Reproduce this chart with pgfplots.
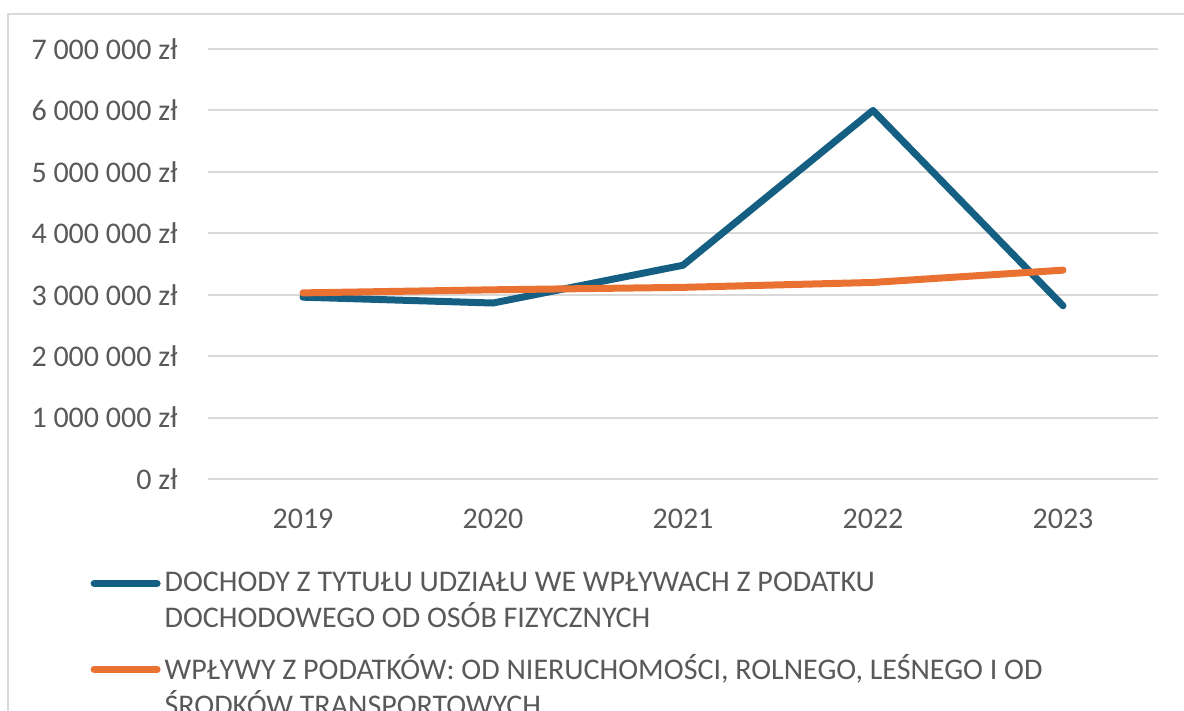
\documentclass[border=0pt]{standalone}
\usepackage{fontspec}
\setmainfont{Carlito}
\usepackage{pgfplots}
\pgfplotsset{compat=1.18}
\definecolor{cBlue}{HTML}{156082}
\definecolor{cOrange}{HTML}{E97132}
\definecolor{cGrid}{HTML}{D9D9D9}
\definecolor{cText}{HTML}{595959}
\begin{document}
\fontsize{15}{18}\selectfont
\begin{tikzpicture}
\useasboundingbox (0pt,0pt) rectangle (592pt,-355.5pt);
\clip (0pt,0pt) rectangle (592pt,-355.5pt);
\draw[cGrid, line width=1.2pt] (4pt,-400pt) -- (4pt,-7pt) -- (700pt,-7pt);
\begin{axis}[
  at={(104pt,-239.5pt)}, anchor=south west,
  scale only axis, width=475pt, height=215pt,
  xmin=-0.5, xmax=4.5, ymin=0, ymax=7000000,
  axis line style={draw=none},
  major tick length=0pt,
  xtick={0,1,2,3,4},
  xticklabels={2019,2020,2021,2022,2023},
  ytick={0,1000000,2000000,3000000,4000000,5000000,6000000,7000000},
  yticklabels={0 zł,1~000~000 zł,2~000~000 zł,3~000~000 zł,4~000~000 zł,5~000~000 zł,6~000~000 zł,7~000~000 zł},
  scaled y ticks=false,
  ymajorgrids,
  grid style={cGrid, line width=1pt},
  tick label style={text=cText, font=\fontsize{15}{18}\selectfont},
  yticklabel style={xshift=-10pt},
  xticklabel style={yshift=-10pt},
  legend style={at={(axis description cs:-0.124,-0.205)}, anchor=north west, draw=none, fill=none,
    font=\fontsize{15}{18}\selectfont, text=cText, cells={align=left, anchor=west},
    row sep=7.5pt, inner sep=0pt},
  legend image code/.code={\draw[#1, line width=3.5pt, line cap=round] (0pt,9pt) -- (31.5pt,9pt);},
]
\addplot[cBlue, line width=3.5pt, line cap=round, line join=round] coordinates {
 (0,2960000) (1,2865000) (2,3480000) (3,6000000) (4,2820000)};
\addlegendentry{DOCHODY Z TYTUŁU UDZIAŁU WE WPŁYWACH Z PODATKU\\DOCHODOWEGO OD OSÓB FIZYCZNYCH}
\addplot[cOrange, line width=3.5pt, line cap=round, line join=round] coordinates {
 (0,3030000) (1,3080000) (2,3120000) (3,3200000) (4,3400000)};
\addlegendentry{WPŁYWY Z PODATKÓW: OD NIERUCHOMOŚCI, ROLNEGO, LEŚNEGO I OD\\ŚRODKÓW TRANSPORTOWYCH}
\end{axis}
\end{tikzpicture}
\end{document}
